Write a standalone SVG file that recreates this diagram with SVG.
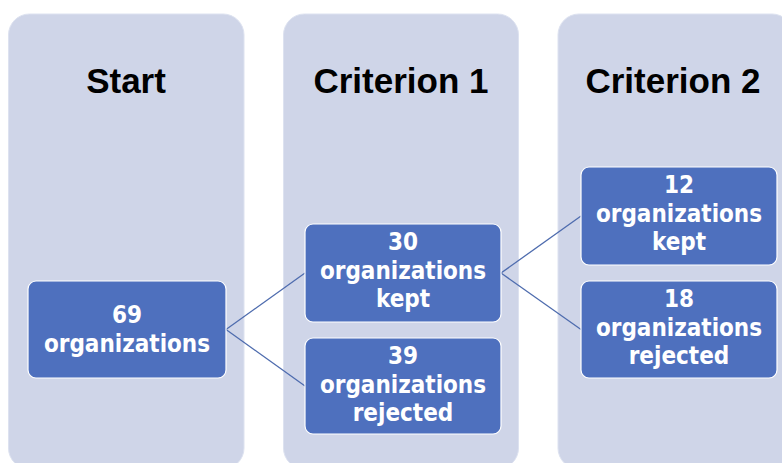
<svg xmlns="http://www.w3.org/2000/svg" width="782" height="463" viewBox="0 0 782 463">
  <style>
    .col { fill: #CFD5E8; stroke: #DDE2F0; stroke-width: 1; }
    .head { font-family: "Liberation Sans", Arial, sans-serif; font-weight: bold; font-size: 35px; fill: #000; text-anchor: middle; }
    .box { fill: #4E70BE; stroke: #FFFFFF; stroke-width: 1.2; }
    .lbl { font-family: "DejaVu Sans Condensed", "DejaVu Sans", sans-serif; font-stretch: condensed; font-weight: bold; font-size: 24px; fill: #FFFFFF; text-anchor: middle; }
    .link { fill: none; stroke: #4E6CAE; stroke-width: 1.3; }
  </style>

  <!-- stage columns -->
  <g id="col-start">
    <rect class="col" x="8.5" y="14" width="235.5" height="455" rx="21"/>
    <text class="head" x="126" y="93">Start</text>
  </g>
  <g id="col-criterion1">
    <rect class="col" x="283.5" y="14" width="235" height="455" rx="21"/>
    <text class="head" x="401" y="93">Criterion 1</text>
  </g>
  <g id="col-criterion2">
    <rect class="col" x="558" y="14" width="235" height="455" rx="21"/>
    <text class="head" x="673" y="93">Criterion 2</text>
  </g>

  <!-- connectors -->
  <g id="connectors">
    <line class="link" x1="226" y1="329.5" x2="305" y2="273"/>
    <line class="link" x1="226" y1="329.5" x2="305" y2="386"/>
    <line class="link" x1="501" y1="273" x2="581" y2="216"/>
    <line class="link" x1="501" y1="273" x2="581" y2="329.5"/>
  </g>

  <!-- result boxes -->
  <g id="n69">
    <rect class="box" x="28" y="281" width="198" height="97" rx="8"/>
    <text class="lbl" x="127" y="323">69</text>
    <text class="lbl" x="127" y="352">organizations</text>
  </g>
  <g id="n30-kept">
    <rect class="box" x="305" y="224" width="196" height="98" rx="8"/>
    <text class="lbl" x="403" y="250">30</text>
    <text class="lbl" x="403" y="279">organizations</text>
    <text class="lbl" x="403" y="307">kept</text>
  </g>
  <g id="n39-rejected">
    <rect class="box" x="305" y="338" width="196" height="96" rx="8"/>
    <text class="lbl" x="403" y="364">39</text>
    <text class="lbl" x="403" y="393">organizations</text>
    <text class="lbl" x="403" y="421">rejected</text>
  </g>
  <g id="n12-kept">
    <rect class="box" x="581" y="167" width="196" height="98" rx="8"/>
    <text class="lbl" x="679" y="193">12</text>
    <text class="lbl" x="679" y="222">organizations</text>
    <text class="lbl" x="679" y="250">kept</text>
  </g>
  <g id="n18-rejected">
    <rect class="box" x="581" y="281" width="196" height="97" rx="8"/>
    <text class="lbl" x="679" y="307">18</text>
    <text class="lbl" x="679" y="336">organizations</text>
    <text class="lbl" x="679" y="364">rejected</text>
  </g>
</svg>
